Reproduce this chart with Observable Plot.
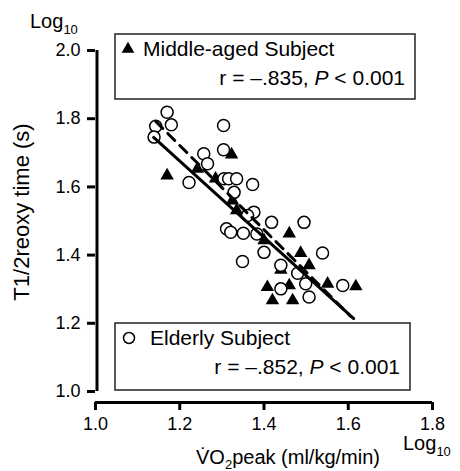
<!DOCTYPE html>
<html><head><meta charset="utf-8">
<script src="https://cdn.jsdelivr.net/npm/d3@7"></script>
<script src="https://cdn.jsdelivr.net/npm/@observablehq/plot@0.6"></script>
<style>
body{margin:0;background:#fff;}
svg{font-family:"Liberation Sans",Arial,sans-serif;}
</style>
</head><body><div id="chart"></div>
<script>
// Axis ticks
const xTicks = [1.0, 1.2, 1.4, 1.6, 1.8];
const yTicks = [1.0, 1.2, 1.4, 1.6, 1.8, 2.0];

// Middle-aged subjects (filled triangles): log10 VO2peak, log10 T1/2reoxy
const middleX = [1.170, 1.242, 1.323, 1.285, 1.325, 1.335, 1.400, 1.460, 1.487, 1.440, 1.507, 1.408, 1.460, 1.551, 1.618, 1.420, 1.468];
const middleY = [1.633, 1.653, 1.695, 1.624, 1.560, 1.531, 1.443, 1.463, 1.406, 1.357, 1.370, 1.306, 1.311, 1.316, 1.308, 1.267, 1.267];

// Elderly subjects (open circles)
const elderlyX = [1.170, 1.143, 1.180, 1.139, 1.304, 1.304, 1.257, 1.266, 1.222, 1.305, 1.316, 1.335, 1.373, 1.329, 1.376, 1.361, 1.418, 1.495, 1.311, 1.321, 1.351, 1.383, 1.400, 1.349, 1.440, 1.539, 1.480, 1.440, 1.499, 1.587, 1.507];
const elderlyY = [1.819, 1.778, 1.782, 1.746, 1.780, 1.709, 1.697, 1.668, 1.613, 1.624, 1.624, 1.624, 1.607, 1.584, 1.526, 1.516, 1.496, 1.496, 1.477, 1.467, 1.464, 1.462, 1.408, 1.381, 1.370, 1.406, 1.347, 1.301, 1.316, 1.311, 1.277];

// Regression lines (end points)
const solidLineX = [1.138, 1.613];
const solidLineY = [1.745, 1.214];
const dashLineX = [1.143, 1.606];
const dashLineY = [1.792, 1.220];

const middle = middleX.map((x, i) => ({x, y: middleY[i]}));
const elderly = elderlyX.map((x, i) => ({x, y: elderlyY[i]}));
const solidLine = solidLineX.map((x, i) => ({x, y: solidLineY[i]}));
const dashLine = dashLineX.map((x, i) => ({x, y: dashLineY[i]}));

const chart = Plot.plot({
  width: 460, height: 471,
  marginTop: 50, marginBottom: 80, marginLeft: 95, marginRight: 28,
  style: {background: "#fff", fontFamily: '"Liberation Sans", Arial, sans-serif', color: "#000"},
  x: {domain: [1.0, 1.8], axis: null},
  y: {domain: [1.0, 2.0], axis: null},
  marks: [
    // y axis
    Plot.ruleX([xTicks[0]], {y1: yTicks[0], y2: yTicks[yTicks.length - 1], stroke: "#000", strokeWidth: 3, dx: 1.5}),
    Plot.ruleY(yTicks, {x1: xTicks[0], x2: xTicks[0], insetLeft: -8, stroke: "#000", strokeWidth: 3}),
    Plot.text(yTicks, {x: xTicks[0], y: d => d, text: d => d.toFixed(1), textAnchor: "end", dx: -15, fontSize: 18, fill: "#000"}),
    // x axis
    Plot.ruleY([yTicks[0]], {x1: xTicks[0], x2: xTicks[xTicks.length - 1], dy: 11, stroke: "#000", strokeWidth: 3}),
    Plot.ruleX(xTicks, {y1: yTicks[0], y2: yTicks[0], insetTop: 11, insetBottom: -19, stroke: "#000", strokeWidth: 3}),
    Plot.text(xTicks, {x: d => d, y: yTicks[0], dy: 33, text: d => d.toFixed(1), fontSize: 18, fill: "#000"}),
    // data
    Plot.dot(middle, {x: "x", y: "y", symbol: "triangle", r: 5, fill: "#000", stroke: "none"}),
    Plot.dot(elderly, {x: "x", y: "y", r: 6, fill: "#fff", stroke: "#000", strokeWidth: 1.5}),
    Plot.line(solidLine, {x: "x", y: "y", stroke: "#000", strokeWidth: 3}),
    Plot.line(dashLine, {x: "x", y: "y", stroke: "#000", strokeWidth: 3, strokeDasharray: "10,7"})
  ]
});
document.getElementById("chart").appendChild(chart);

// Annotations: axis titles, Log10 labels, legend boxes
const svg = d3.select(chart);
const g = svg.append("g").attr("fill", "#000").attr("text-anchor", "start");

function logLabel(x, y) {
  const t = g.append("text").attr("x", x).attr("y", y).attr("font-size", 20).attr("text-anchor", "start");
  t.append("tspan").text("Log");
  t.append("tspan").attr("font-size", 13).attr("dy", 6).text("10");
}
logLabel(30, 28);
logLabel(403, 450);

const xt = g.append("text").attr("x", 288).attr("y", 464).attr("font-size", 20).attr("text-anchor", "middle");
xt.append("tspan").text("V\u0307O");
xt.append("tspan").attr("font-size", 13).attr("dy", 5).text("2");
xt.append("tspan").attr("dy", -5).text("peak (ml/kg/min)");

g.append("text").attr("transform", "translate(29,212) rotate(-90)")
  .attr("font-size", 22).attr("text-anchor", "middle").text("T1/2reoxy time (s)");

function legend(box, sym, label, rText) {
  const lg = g.append("g");
  lg.append("rect").attr("x", box.x).attr("y", box.y).attr("width", box.w).attr("height", box.h)
    .attr("fill", "#fff").attr("stroke", "#222").attr("stroke-width", 1.5);
  const sx = box.x + 13, sy = box.y + 15;
  if (sym === "triangle") {
    lg.append("path").attr("d", d3.symbol(d3.symbolTriangle, 70)()).attr("transform", `translate(${sx},${sy})`).attr("fill", "#000");
  } else {
    lg.append("circle").attr("cx", sx + 1).attr("cy", sy).attr("r", 5.5).attr("fill", "#fff").attr("stroke", "#000").attr("stroke-width", 1.5);
  }
  lg.append("text").attr("x", box.x + 28 + (sym === "triangle" ? 0 : 7)).attr("y", box.y + 22).attr("font-size", 21).attr("text-anchor", "start").text(label);
  const t = lg.append("text").attr("x", box.x + box.w - 10).attr("y", box.y + 51).attr("font-size", 21).attr("text-anchor", "end");
  t.append("tspan").text(rText + ", ");
  t.append("tspan").attr("font-style", "italic").text("P");
  t.append("tspan").text(" < 0.001");
}
legend({x: 115, y: 34, w: 300, h: 65}, "triangle", "Middle-aged Subject", "r = \u2013.835");
legend({x: 115, y: 323, w: 295, h: 67}, "circle", "Elderly Subject", "r = \u2013.852");
</script>
</body></html>
